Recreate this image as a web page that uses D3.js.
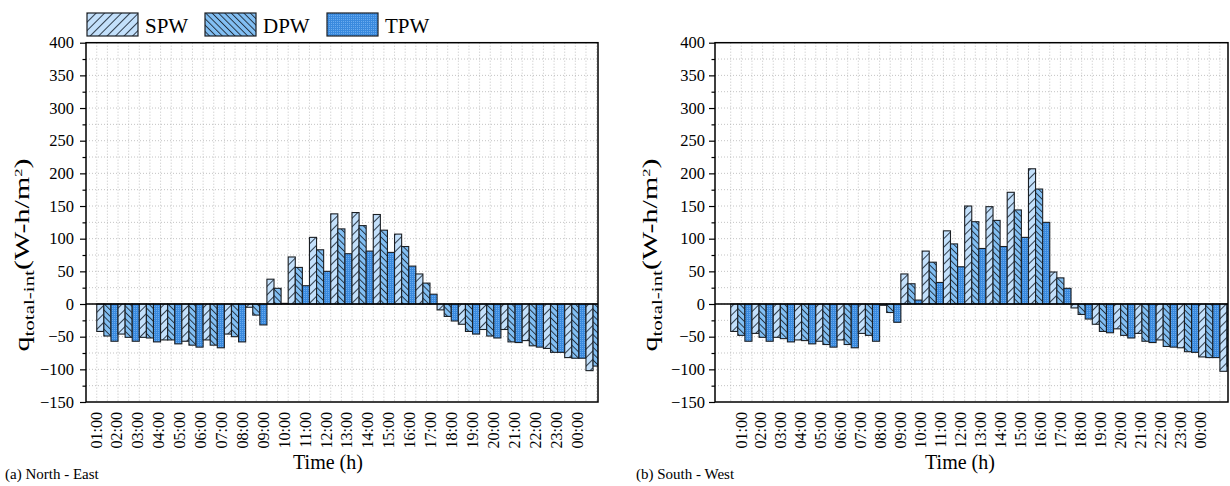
<!DOCTYPE html>
<html lang="en">
<head>
<meta charset="UTF-8">
<title>q total-int</title>
<script src="https://cdn.jsdelivr.net/npm/d3@7/dist/d3.min.js"></script>
<style>
    body{
        margin:0;
        background:#fff;
    }
    svg text{
        font-family:"Liberation Serif","Times New Roman",serif;
        fill:#000;
    }
</style>
</head>
<body>
<svg id="chart" width="1230" height="486"></svg>
<script>
    // categories
    var hours = ['01:00','02:00','03:00','04:00','05:00','06:00','07:00','08:00','09:00','10:00','11:00','12:00',
                 '13:00','14:00','15:00','16:00','17:00','18:00','19:00','20:00','21:00','22:00','23:00','00:00'];

    // (a) North - East
    var neSPW = [-42,-46,-51,-55,-57,-55,-46,-5, 38,72,102,138,140,137,107,46, -9,-31,-39,-39,-56,-68,-82,-102];
    var neDPW = [-49,-51,-52,-55,-63,-63,-50,-17, 24,56,83,115,120,113,88,32, -19,-42,-49,-58,-64,-74,-83,-95];
    var neTPW = [-57,-57,-58,-61,-66,-67,-58,-32, 1,28,50,77,81,79,58,15, -26,-46,-52,-59,-66,-74,-83,-98];

    // (b) South - West
    var swSPW = [-42,-45,-51,-55,-57,-55,-45,-2, 46,81,112,150,149,171,207,49, -6,-31,-38,-45,-55,-67,-81,-103];
    var swDPW = [-48,-51,-53,-56,-62,-62,-48,-13, 31,64,92,126,128,144,176,40, -16,-42,-48,-57,-65,-73,-82,-95];
    var swTPW = [-57,-57,-58,-61,-66,-67,-57,-28, 6,33,57,85,88,102,125,24, -23,-44,-52,-59,-66,-74,-82,-98];

    var yTicks = [-150,-100,-50,0,50,100,150,200,250,300,350,400];
    var seriesNames = ['SPW','DPW','TPW'];

    var plotTop = 42.7, plotBottom = 402;

    var svg = d3.select('#chart');
    var defs = svg.append('defs');

    // hatch fills
    function hatch(id, bg, angle, gap){
        var p = defs.append('pattern')
            .attr('id', id)
            .attr('patternUnits', 'userSpaceOnUse')
            .attr('width', gap).attr('height', gap)
            .attr('patternTransform', 'rotate(' + angle + ')');
        p.append('rect').attr('width', gap).attr('height', gap).attr('fill', bg);
        p.append('line').attr('x1', 0.5).attr('y1', 0).attr('x2', 0.5).attr('y2', gap)
            .attr('stroke', '#1e2a38').attr('stroke-width', 0.9);
    }
    hatch('pat-spw', '#c3e0fb', 45, 6);
    hatch('pat-dpw', '#82bff3', -45, 4.5);
    var tp = defs.append('pattern').attr('id', 'pat-tpw')
        .attr('patternUnits', 'userSpaceOnUse').attr('width', 2).attr('height', 2);
    tp.append('rect').attr('width', 2).attr('height', 2).attr('fill', '#3a8ade');
    tp.append('rect').attr('width', 1).attr('height', 1).attr('fill', '#6aabef');

    var fills = ['url(#pat-spw)', 'url(#pat-dpw)', 'url(#pat-tpw)'];

    var y = d3.scaleLinear().domain([-150, 400]).range([plotBottom, plotTop]);

    function drawPanel(p){
        var w = p.width;
        // hour scale for bars and grid; tick labels use their own point scale
        var x = d3.scaleLinear().domain([p.h0, p.h0 + w / 21.27]).range([0, w]);
        var xl = d3.scalePoint().domain(hours).range(p.labelRange);

        var g = svg.append('g').attr('transform', 'translate(' + p.left + ',0)');

        defs.append('clipPath').attr('id', p.clip)
            .append('rect').attr('x', 0).attr('y', plotTop).attr('width', w).attr('height', plotBottom - plotTop);

        // grid
        var grid = g.append('g').attr('stroke', '#b4b4b4').attr('stroke-width', 0.8).attr('stroke-dasharray', '1,2');
        grid.selectAll('.hg').data(d3.range(-125, 400, 25)).enter().append('line')
            .attr('x1', 0).attr('x2', w)
            .attr('y1', function(d){ return y(d); }).attr('y2', function(d){ return y(d); });
        var vx = [];
        hours.forEach(function(h, i){ vx.push(i + 1.05, i + 1.55); });
        grid.selectAll('.vg').data(vx.filter(function(d){ return x(d) > 1 && x(d) < w - 1; })).enter().append('line')
            .attr('y1', plotTop).attr('y2', plotBottom)
            .attr('x1', function(d){ return x(d); }).attr('x2', function(d){ return x(d); });

        // bars
        var rows = [];
        hours.forEach(function(h, i){
            [p.spw[i], p.dpw[i], p.tpw[i]].forEach(function(v, k){
                rows.push({hour: i + 1, k: k, v: v});
            });
        });
        g.append('g').attr('clip-path', 'url(#' + p.clip + ')')
            .selectAll('rect').data(rows).enter().append('rect')
            .attr('x', function(d){ return x(d.hour + 0.05 + d.k / 3); })
            .attr('width', function(d){ return x(d.hour + 0.05 + (d.k + 1) / 3) - x(d.hour + 0.05 + d.k / 3); })
            .attr('y', function(d){ return y(Math.max(0, d.v)); })
            .attr('height', function(d){ return Math.abs(y(d.v) - y(0)); })
            .attr('fill', function(d){ return fills[d.k]; })
            .attr('stroke', '#1b1f24').attr('stroke-width', 1.1);

        // zero line
        g.append('line').attr('x1', 0).attr('x2', w).attr('y1', y(0)).attr('y2', y(0))
            .attr('stroke', '#000').attr('stroke-width', 1.5);

        // y axis: major + minor ticks
        var ax = g.append('g').call(d3.axisLeft(y).tickValues(yTicks).tickSize(6).tickPadding(p.pad));
        ax.select('.domain').remove();
        ax.selectAll('text').style('font-size', '16.5px').style('font-family', '"Liberation Serif", serif');
        ax.selectAll('line').attr('stroke-width', 1.2);
        var mn = g.append('g').call(d3.axisLeft(y).tickValues(d3.range(-125, 400, 50)).tickSize(3.5).tickFormat(''));
        mn.select('.domain').remove();
        mn.selectAll('line').attr('stroke-width', 1.2);

        // frame
        g.append('rect').attr('x', 0).attr('y', plotTop).attr('width', w).attr('height', plotBottom - plotTop)
            .attr('fill', 'none').attr('stroke', '#000').attr('stroke-width', 1.5);

        // x tick labels
        g.selectAll('.xl').data(hours).enter().append('text')
            .attr('transform', function(d){ return 'translate(' + (xl(d) + 5.5) + ',' + (plotBottom + 10) + ') rotate(-90)'; })
            .attr('text-anchor', 'end')
            .style('font-size', '16px')
            .text(function(d){ return d; });

        // axis titles
        g.append('text').attr('x', p.timeX).attr('y', 469).attr('text-anchor', 'middle')
            .style('font-size', '20px').text('Time (h)');

        var yt = g.append('text').attr('transform', 'translate(' + p.titleX + ',255) rotate(-90) scale(1.5,1)')
            .attr('text-anchor', 'middle').style('font-size', '20px');
        yt.append('tspan').text('q');
        yt.append('tspan').attr('dy', 5).style('font-size', '14px').text('total-int');
        yt.append('tspan').attr('dy', -5).text('(W-h/m');
        yt.append('tspan').attr('dy', -7).style('font-size', '11px').text('2');
        yt.append('tspan').attr('dy', 7).text(')');

        svg.append('text').attr('x', p.tagX).attr('y', 479).style('font-size', '15px').text(p.tag);
    }

    drawPanel({left: 86, width: 512, h0: 0.544, labelRange: [10, 491], pad: 6, titleX: -57, timeX: 242,
               spw: neSPW, dpw: neDPW, tpw: neTPW, tag: '(a) North - East', tagX: 5, clip: 'clip-a'});
    drawPanel({left: 715, width: 513, h0: 0.312, labelRange: [26, 485], pad: 4, titleX: -58, timeX: 245,
               spw: swSPW, dpw: swDPW, tpw: swTPW, tag: '(b) South - West', tagX: 636, clip: 'clip-b'});

    // legend
    var legendX = [87, 205, 327];
    var lg = svg.append('g').selectAll('g').data(seriesNames).enter().append('g')
        .attr('transform', function(d, i){ return 'translate(' + legendX[i] + ',13)'; });
    lg.append('rect').attr('width', 51).attr('height', 23)
        .attr('fill', function(d, i){ return fills[i]; })
        .attr('stroke', '#1b1f24').attr('stroke-width', 1.2);
    lg.append('text').attr('x', 58).attr('y', 19.5).style('font-size', '21px').text(function(d){ return d; });
</script>
</body>
</html>
